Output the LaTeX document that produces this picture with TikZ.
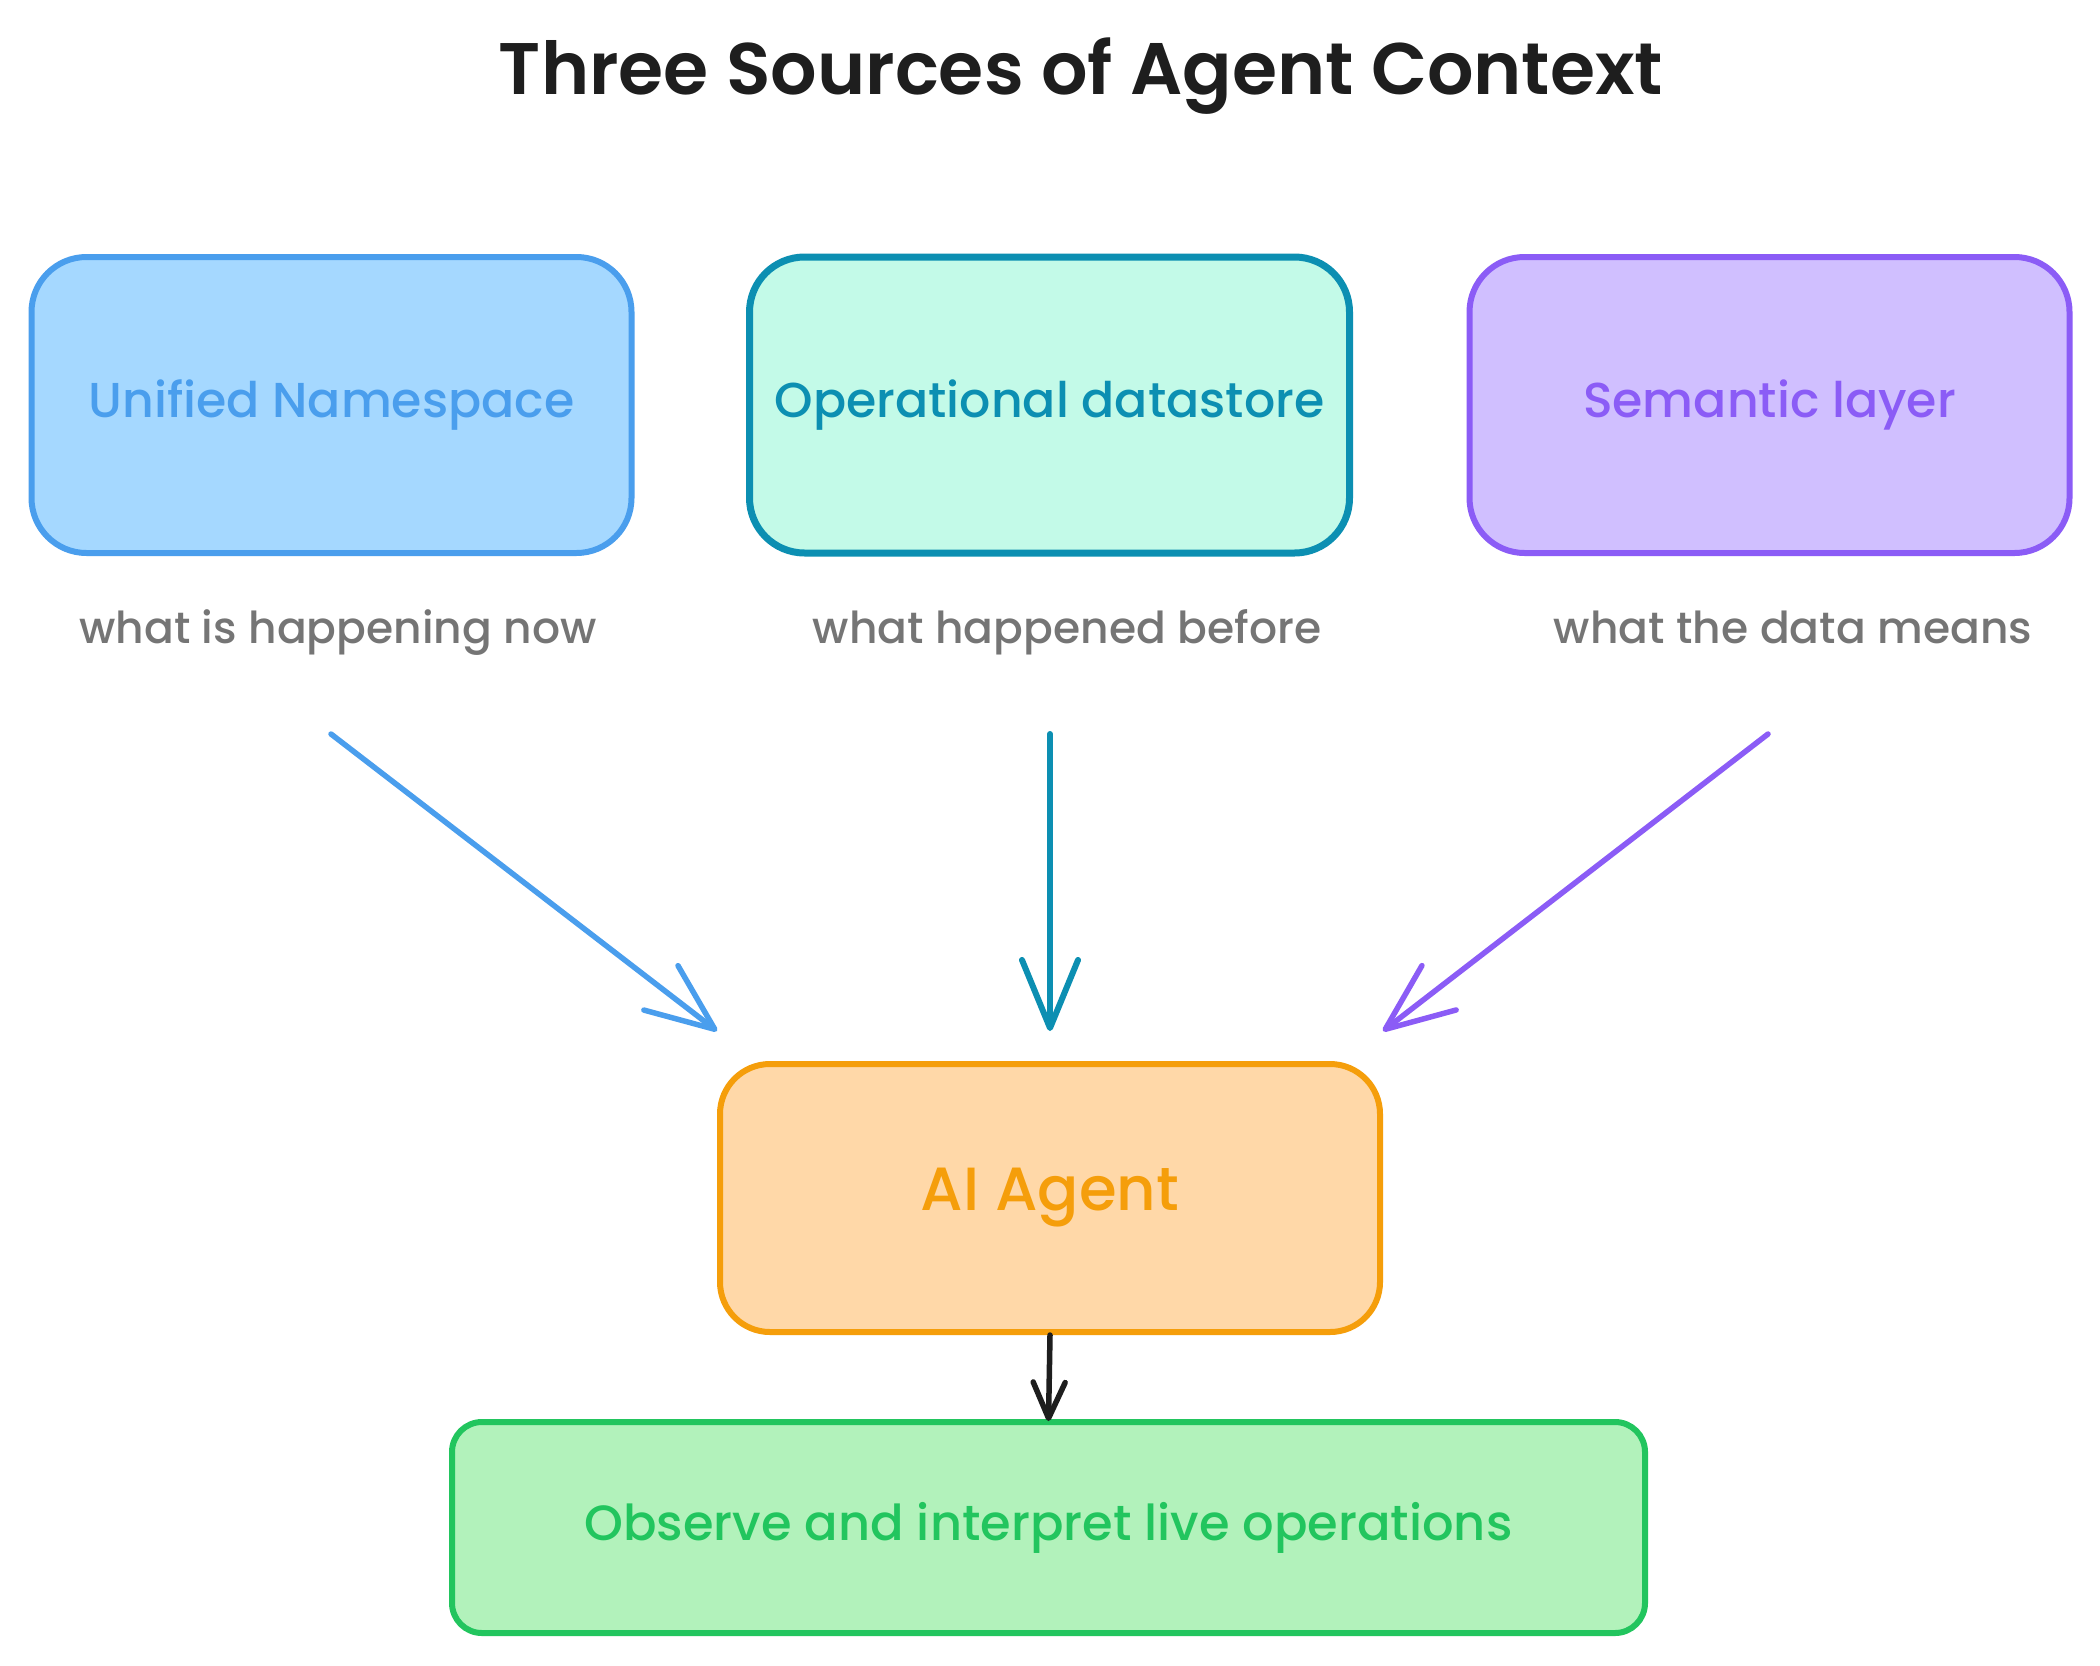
\documentclass[tikz,border=0pt]{standalone}
\usepackage{fontspec}
\setmainfont{Poppins}[UprightFont=* Medium, BoldFont=* SemiBold]
\usetikzlibrary{arrows.meta}
\definecolor{blueS}{HTML}{4A9EED}
\definecolor{blueF}{HTML}{A5D8FF}
\definecolor{tealS}{HTML}{0C8FB2}
\definecolor{tealF}{HTML}{C3FAE8}
\definecolor{purpS}{HTML}{8B5CF6}
\definecolor{purpF}{HTML}{D0BFFF}
\definecolor{orS}{HTML}{F59E0B}
\definecolor{orF}{HTML}{FFD8A8}
\definecolor{grS}{HTML}{22C55E}
\definecolor{grF}{HTML}{B2F2BB}
\definecolor{subG}{HTML}{757575}
\definecolor{ink}{HTML}{1E1E1E}
\tikzset{
  srcbox/.style={draw, line width=6pt, rounded corners=55pt, minimum width=600pt, minimum height=296pt, inner sep=0pt,
    font=\fontsize{49}{56}\selectfont},
  subtxt/.style={text=subG, anchor=base, inner sep=0pt, font=\fontsize{44}{50}\selectfont},
  flow/.style={line width=5.5pt, line cap=round, -{Straight Barb[length=68pt,width=56pt,round]}},
}
\begin{document}
\begin{tikzpicture}[x=1pt,y=-1pt]
\useasboundingbox (0,0) rectangle (2100,1665);
\fill[white] (0,0) rectangle (2100,1665);
\node[anchor=base, inner sep=0pt, text=ink, font=\bfseries\fontsize{73}{80}\selectfont] (title) at (1081,94) {Three Sources of Agent Context};
\node[srcbox, draw=blueS, fill=blueF, text=blueS] (uns) at (331.5,405) {Unified Namespace};
\node[srcbox, draw=tealS, fill=tealF, text=tealS, line width=7pt] (ods) at (1049.5,405) {Operational datastore};
\node[srcbox, draw=purpS, fill=purpF, text=purpS] (sem) at (1769.5,405) {Semantic layer};
\node[subtxt] (t1) at (338,643) {what is happening now};
\node[subtxt] (t2) at (1067,643) {what happened before};
\node[subtxt] (t3) at (1793,643) {what the data means};
\node[draw=orS, fill=orF, text=orS, line width=6pt, rounded corners=50pt, minimum width=660pt, minimum height=268pt,
  inner sep=0pt, font=\fontsize{61}{66}\selectfont] (agent) at (1050,1198) {AI Agent};
\node[draw=grS, fill=grF, text=grS, line width=6pt, rounded corners=30pt, minimum width=1193pt, minimum height=211pt,
  inner sep=0pt, font=\fontsize{49.5}{56}\selectfont] (out) at (1048.5,1527.5) {Observe and interpret live operations};
\coordinate (s1) at (331,734);
\coordinate (s2) at (1050,734);
\coordinate (s3) at (1768,734);
\coordinate (e1) at ([yshift=30pt]agent.north west);
\coordinate (e2) at ([yshift=30pt]agent.north);
\coordinate (e3) at ([yshift=30pt]agent.north east);
\draw[flow, blueS] (s1) -- (e1);
\draw[flow, tealS, line width=6pt] (s2) -- (e2);
\draw[flow, purpS] (s3) -- (e3);
\draw[ink, line width=5.5pt, line cap=round, -{Straight Barb[length=36pt,width=32pt,round]}] (agent.south) -- ([yshift=-2pt]out.north);
\end{tikzpicture}
\end{document}
